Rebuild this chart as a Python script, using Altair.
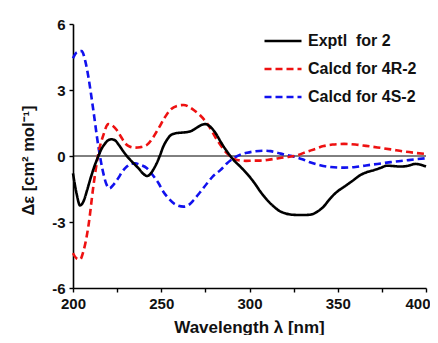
import altair as alt
import pandas as pd

series_names = ["Exptl\u00a0 for 2", "Calcd for 4R-2", "Calcd for 4S-2"]
series_colors = ["#000000", "#ee1111", "#1111ee"]

exp_wl = [200, 202, 204, 206, 208, 210, 212, 214.4, 216, 218, 220, 222, 224, 226, 228.6, 231, 234.3, 237, 240, 242,
          244, 246, 247.6, 249.4, 251, 253.2, 255, 258, 261, 264, 267.4, 270, 273, 275, 277, 280.7, 284, 287.3, 291,
          295, 299.6, 303, 306, 310, 313.8, 317, 320, 323.3, 327, 331, 334, 336.5, 339, 342, 345, 347, 350, 353.6,
          358, 363, 367, 370.6, 374, 378, 382, 385.8, 390, 394, 397, 400]
exp_val = [-0.79, -1.7, -2.25, -2.05, -1.55, -1.0, -0.5, 0.0, 0.3, 0.55, 0.72, 0.76, 0.7, 0.5, 0.2, -0.05, -0.33, -0.55,
           -0.82, -0.91, -0.8, -0.55, -0.3, 0.05, 0.4, 0.73, 0.92, 1.03, 1.06, 1.08, 1.15, 1.28, 1.42, 1.45, 1.38, 1.05,
           0.6, 0.2, -0.18, -0.5, -0.9, -1.25, -1.6, -2.0, -2.3, -2.5, -2.6, -2.66, -2.68, -2.68, -2.67, -2.62, -2.5,
           -2.3, -2.0, -1.82, -1.6, -1.4, -1.15, -0.86, -0.72, -0.64, -0.55, -0.44, -0.46, -0.48, -0.44, -0.36, -0.4,
           -0.48]

r_wl = [200, 202, 204, 206, 208.7, 211.5, 213, 214.4, 217.2, 220, 222, 224.8, 227, 229.5, 232, 235.2, 238, 241.8, 245,
        248.5, 252, 255, 259, 262.7, 266, 268.4, 272, 276, 281.6, 287.3, 293, 298, 302.4, 306, 310, 315.7, 321, 327,
        332, 336.5, 342, 347, 353.6, 360, 366, 372.5, 380, 387.7, 394, 400]
r_val = [-4.42, -4.65, -4.7, -4.3, -3.2, -1.4, -0.55, 0.12, 0.95, 1.45, 1.4, 1.18, 0.9, 0.58, 0.43, 0.38, 0.4, 0.5, 0.8,
         1.26, 1.75, 2.09, 2.28, 2.32, 2.22, 2.09, 1.85, 1.48, 0.73, 0.12, -0.18, -0.22, -0.21, -0.21, -0.18, -0.11,
         -0.05, 0.03, 0.18, 0.3, 0.45, 0.52, 0.55, 0.52, 0.46, 0.39, 0.3, 0.2, 0.14, 0.09]

s_wl = [200, 202, 204.9, 207, 208.7, 211.5, 214.4, 217.2, 219, 220.6, 223, 225.7, 228, 230.5, 233, 235.2, 238, 241.9,
        245, 248.5, 251, 254.1, 258, 262.7, 266, 268.4, 272, 276, 279.5, 283.5, 287, 291, 294.5, 298.7, 303, 308, 312,
        315.7, 320, 325.2, 330, 334.7, 340, 346, 353.6, 360, 366, 372.5, 380, 387.7, 394, 400]
s_val = [4.44, 4.7, 4.77, 4.3, 3.6, 2.09, 0.42, -0.79, -1.3, -1.47, -1.3, -1.0, -0.7, -0.48, -0.35, -0.33, -0.4, -0.56,
         -0.85, -1.24, -1.6, -1.92, -2.2, -2.3, -2.2, -2.0, -1.65, -1.24, -0.9, -0.64, -0.35, -0.1, 0.05, 0.15, 0.21,
         0.24, 0.22, 0.15, 0.06, -0.03, -0.15, -0.3, -0.42, -0.5, -0.53, -0.5, -0.43, -0.36, -0.28, -0.21, -0.15, -0.1]

x_ticks = [200, 225, 250, 275, 300, 325, 350, 375, 400]
y_ticks = [-6, -4.5, -3, -1.5, 0, 1.5, 3, 4.5, 6]

rows = []
for name, wls, vals, order in [(series_names[2], s_wl, s_val, 0), (series_names[1], r_wl, r_val, 1),
                               (series_names[0], exp_wl, exp_val, 2)]:
    for w, v in zip(wls, vals):
        rows.append({"wl": w, "de": v, "series": name, "ord": order})
df = pd.DataFrame(rows)

FONT = "Liberation Sans"

x_scale = alt.Scale(domain=[200, 400], nice=False, zero=False)
y_scale = alt.Scale(domain=[-6, 6], nice=False, zero=False)

zero_rule = alt.Chart(pd.DataFrame({"z": [0]})).mark_rule(color="#000000", strokeWidth=1).encode(
    y=alt.Y("z:Q", scale=y_scale)
)

lines = alt.Chart(df).mark_line(interpolate="monotone", strokeWidth=2.6).encode(
    x=alt.X("wl:Q", scale=x_scale, title="Wavelength λ [nm]",
            axis=alt.Axis(values=x_ticks, labelFlush=False,
                          labelExpr="datum.value % 50 == 0 ? '' + datum.value : ''",
                          labelAlign={"condition": {"test": "datum.value == 400", "value": "right"},
                                      "value": "center"},
                          labelOffset={"condition": {"test": "datum.value == 400", "value": 4}, "value": 0},
                          titleX=176, titleY=44, titleAlign="center", titleBaseline="alphabetic",
                          titleFontSize=17)),
    y=alt.Y("de:Q", scale=y_scale, title="Δε [cm² mol⁻¹]",
            axis=alt.Axis(values=y_ticks, labelFlush=False,
                          labelExpr="datum.value % 3 == 0 ? '' + datum.value : ''",
                          titleX=-37, titleY=136, titleAlign="center", titleAngle=270,
                          titleFontSize=16.5, titleBaseline="bottom")),
    color=alt.Color("series:N", scale=alt.Scale(domain=series_names, range=series_colors),
                    legend=alt.Legend(title=None, orient="none", legendX=190, legendY=-3,
                                      symbolType="stroke", symbolSize=1369, symbolStrokeWidth=2.6,
                                      labelFontSize=16, labelFont=FONT, labelFontWeight="bold",
                                      labelColor="#111111", rowPadding=-17, labelOffset=5)),
    strokeDash=alt.StrokeDash("series:N", scale=alt.Scale(domain=series_names, range=[[1, 0], [7, 4], [7, 4]]),
                              legend=None),
    order=alt.Order("ord:Q"),
    detail="series:N",
)

chart = alt.layer(zero_rule, lines).properties(
    width=353, height=264,
    padding={"left": 65, "top": 16, "right": 4, "bottom": 47},
    autosize=alt.AutoSizeParams(type="none"),
).configure_view(stroke=None).configure_axis(
    domainColor="#000000", domainWidth=1.6, tickColor="#000000", tickWidth=1.4, tickSize=4,
    labelFont=FONT, labelFontSize=15, labelFontWeight="bold", labelColor="#111111", labelPadding=4,
    titleFont=FONT, titleFontWeight="bold", titleColor="#111111", grid=False,
)

chart.save("out.html", embed_options={"renderer": "svg", "actions": False})
